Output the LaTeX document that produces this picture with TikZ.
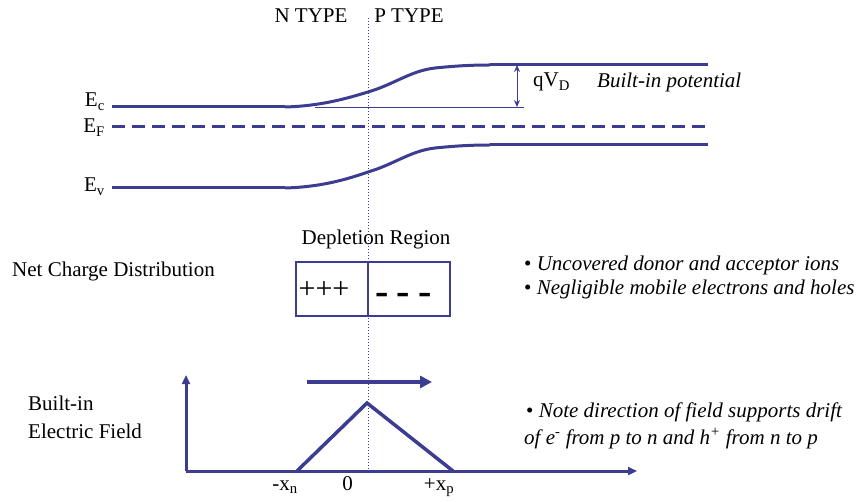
\documentclass[tikz,border=0pt]{standalone}
\usepackage{fontspec}
\setmainfont{Liberation Serif}
\usetikzlibrary{arrows.meta}
\definecolor{bb}{RGB}{60, 60, 145}

\begin{document}
\begin{tikzpicture}[x=1pt, y=1pt,
every node/.style={inner sep=0pt, font=\fontsize{21}{24}\selectfont},
band/.style={line width=3pt, color=bb},
thinline/.style={line width=1pt, color=bb},
axis/.style={line width=3pt, color=bb},
lbl/.style={anchor=base}]
\useasboundingbox (0,0) rectangle (859,-502);
% energy bands
\coordinate (1) at (112,-107);
\coordinate (2) at (285,-107);
\coordinate (3) at (368,-92);
\coordinate (4) at (435,-68);
\coordinate (5) at (490,-65);
\coordinate (6) at (708,-65);
\coordinate (7) at (112,-188);
\coordinate (8) at (285,-188);
\coordinate (9) at (368,-172);
\coordinate (10) at (435,-148);
\coordinate (11) at (490,-145);
\coordinate (12) at (708,-145);
\coordinate (13) at (112,-127);
\coordinate (14) at (712,-127);
\coordinate (15) at (315,-107.5);
\coordinate (16) at (524,-107.5);
\coordinate (17) at (517,-65);
\coordinate (18) at (517,-107);
\coordinate (19) at (368,-18);
\coordinate (20) at (368,-471);
\draw [line width=0.8pt, color=bb, dash pattern=on 1pt off 2pt] (19) to (20);
\draw [band] (1) to (2);
\draw [band] (2) .. controls (320,-106) and (345,-99) .. (3) .. controls (395,-84) and (410,-71) .. (4) .. controls (455,-66) and (470,-65) .. (5);
\draw [band] (5) to (6);
\draw [band] (7) to (8);
\draw [band] (8) .. controls (320,-187) and (345,-180) .. (9) .. controls (395,-164) and (410,-151) .. (10) .. controls (455,-146) and (470,-145) .. (11);
\draw [band] (11) to (12);
\draw [band, dash pattern=on 13pt off 7pt] (13) to (14);
\draw [thinline] (15) to (16);
\draw [thinline, {Stealth[length=7pt,width=6pt]}-{Stealth[length=7pt,width=6pt]}] (17) to (18);
\node (ntype) [lbl] at (311,-23) {N TYPE};
\node (ptype) [lbl] at (409,-23) {P TYPE};
\node (ec) [anchor=base east] at (105,-107) {E\textsubscript{c}};
\node (ef) [anchor=base east] at (105,-133) {E\textsubscript{F}};
\node (ev) [anchor=base east] at (105,-192) {E\textsubscript{v}};
\node (qvd) [anchor=base west] at (533,-87) {qV\textsubscript{D}};
\node (bip) [anchor=base west] at (597,-88) {\itshape Built-in potential};
% charge distribution
\node (dep) [lbl] at (376,-245) {Depletion Region};
\node (box) [draw=bb, line width=1.2pt, minimum width=154pt, minimum height=54pt] at (373,-289) {};
\draw [line width=1.2pt, color=bb] (box.north -| 19) to (box.south -| 19);
\node (plus) at (324,-290) {\fontsize{30}{30}\selectfont +++};
\node (minus) [lbl] at (403.5,-305) {\fontsize{40}{40}\selectfont\bfseries -\hspace{8pt}-\hspace{8pt}-};
\node (ncd) [anchor=base west] at (12,-277) {Net Charge Distribution};
\node (b1) [anchor=base west] at (524,-271) {\textbullet\ \textit{Uncovered donor and acceptor ions}};
\node (b2) [anchor=base west] at (524,-295) {\textbullet\ \textit{Negligible mobile electrons and holes}};
% electric field
\coordinate (21) at (186,-471);
\coordinate (22) at (186,-375);
\coordinate (23) at (637,-471);
\coordinate (24) at (297,-471);
\coordinate (25) at (367,-403);
\coordinate (26) at (453,-471);
\coordinate (27) at (307,-382);
\coordinate (28) at (432,-382);
\draw [axis, -{Triangle[length=9pt,width=8pt]}] (21) to (22);
\draw [axis, -{Triangle[length=9pt,width=8pt]}] (21) to (23);
\draw [band, line width=3.5pt] (24) to (25) to (26);
\draw [line width=4pt, color=bb, -{Triangle[length=12pt,width=12pt]}] (27) to (28);
\node (bi) [anchor=base west] at (28,-410) {Built-in};
\node (efield) [anchor=base west] at (28,-438) {Electric Field};
\node (xn) [lbl] at (285,-490) {-x\textsubscript{n}};
\node (zero) [lbl] at (347.5,-490) {0};
\node (xp) [lbl] at (439,-490) {+x\textsubscript{p}};
\node (n1) [anchor=base west] at (526,-417) {\textbullet\ \textit{Note direction of field supports drift}};
\node (n2) [anchor=base west] at (524,-444) {\textit{of e\textsuperscript{-} from p to n and h\textsuperscript{+} from n to p}};
\end{tikzpicture}
\end{document}
